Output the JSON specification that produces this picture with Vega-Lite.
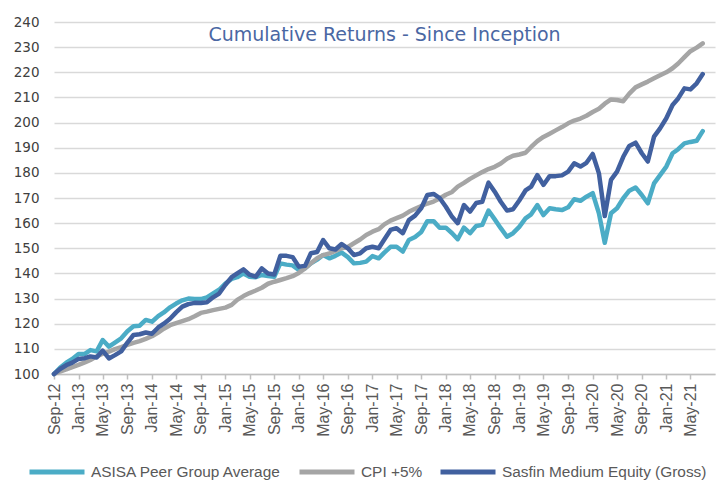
{
  "$schema": "https://vega.github.io/schema/vega-lite/v6.json",
  "width": 661,
  "height": 352,
  "autosize": {"type": "none"},
  "padding": {"left": 54, "top": 22, "right": 11, "bottom": 124},
  "background": "white",
  "title": {
    "text": "Cumulative Returns - Since Inception",
    "font": "DejaVu Sans",
    "fontSize": 19,
    "fontWeight": "normal",
    "color": "#4a67a3",
    "anchor": "middle",
    "offset": -30
  },
  "data": {
    "values": [
      {"d": "2012-09-01", "a": 100, "c": 100, "s": 100},
      {"d": "2012-10-01", "a": 102.5, "c": 101, "s": 102},
      {"d": "2012-11-01", "a": 104.5, "c": 101.8, "s": 103.5},
      {"d": "2012-12-01", "a": 106, "c": 102.7, "s": 104.5},
      {"d": "2013-01-01", "a": 108, "c": 103.6, "s": 106},
      {"d": "2013-02-01", "a": 108, "c": 104.6, "s": 106.3},
      {"d": "2013-03-01", "a": 109.5, "c": 105.6, "s": 107},
      {"d": "2013-04-01", "a": 109, "c": 107, "s": 106.6},
      {"d": "2013-05-01", "a": 113.5, "c": 108.1, "s": 109.3},
      {"d": "2013-06-01", "a": 110.9, "c": 108.9, "s": 106.2},
      {"d": "2013-07-01", "a": 112.5, "c": 109.9, "s": 107.5},
      {"d": "2013-08-01", "a": 114.2, "c": 110.7, "s": 109},
      {"d": "2013-09-01", "a": 117, "c": 111.6, "s": 112.5},
      {"d": "2013-10-01", "a": 119, "c": 112.4, "s": 115.5},
      {"d": "2013-11-01", "a": 119.2, "c": 113.1, "s": 115.8},
      {"d": "2013-12-01", "a": 121.5, "c": 114, "s": 116.5},
      {"d": "2014-01-01", "a": 120.8, "c": 115, "s": 116},
      {"d": "2014-02-01", "a": 123, "c": 116.5, "s": 118.5},
      {"d": "2014-03-01", "a": 124.5, "c": 118, "s": 120},
      {"d": "2014-04-01", "a": 126.5, "c": 119.4, "s": 122},
      {"d": "2014-05-01", "a": 128, "c": 120.2, "s": 124.5},
      {"d": "2014-06-01", "a": 129.3, "c": 121, "s": 126.8},
      {"d": "2014-07-01", "a": 130, "c": 121.8, "s": 127.8},
      {"d": "2014-08-01", "a": 129.8, "c": 123, "s": 128.3},
      {"d": "2014-09-01", "a": 129.8, "c": 124.3, "s": 128.2},
      {"d": "2014-10-01", "a": 130.5, "c": 124.8, "s": 128.5},
      {"d": "2014-11-01", "a": 132, "c": 125.4, "s": 130.5},
      {"d": "2014-12-01", "a": 133.5, "c": 125.9, "s": 132},
      {"d": "2015-01-01", "a": 136, "c": 126.4, "s": 135.5},
      {"d": "2015-02-01", "a": 137.8, "c": 127.5, "s": 138.5},
      {"d": "2015-03-01", "a": 138.5, "c": 129.5, "s": 140},
      {"d": "2015-04-01", "a": 140, "c": 131, "s": 141.6},
      {"d": "2015-05-01", "a": 138.7, "c": 132.2, "s": 139.5},
      {"d": "2015-06-01", "a": 138.5, "c": 133.2, "s": 138.7},
      {"d": "2015-07-01", "a": 139.4, "c": 134.3, "s": 142},
      {"d": "2015-08-01", "a": 139, "c": 135.9, "s": 140},
      {"d": "2015-09-01", "a": 138.7, "c": 136.7, "s": 139.6},
      {"d": "2015-10-01", "a": 144, "c": 137.4, "s": 147},
      {"d": "2015-11-01", "a": 143.5, "c": 138.1, "s": 147},
      {"d": "2015-12-01", "a": 143.2, "c": 138.9, "s": 146.5},
      {"d": "2016-01-01", "a": 141.4, "c": 140.2, "s": 142.7},
      {"d": "2016-02-01", "a": 142, "c": 142, "s": 143},
      {"d": "2016-03-01", "a": 144, "c": 144, "s": 148},
      {"d": "2016-04-01", "a": 145.5, "c": 146, "s": 148.5},
      {"d": "2016-05-01", "a": 147.3, "c": 147.3, "s": 153.3},
      {"d": "2016-06-01", "a": 146, "c": 148, "s": 150},
      {"d": "2016-07-01", "a": 147, "c": 149, "s": 149.5},
      {"d": "2016-08-01", "a": 148.3, "c": 150, "s": 151.7},
      {"d": "2016-09-01", "a": 146.5, "c": 150.5, "s": 150},
      {"d": "2016-10-01", "a": 144, "c": 152, "s": 147.3},
      {"d": "2016-11-01", "a": 144.2, "c": 153.5, "s": 148},
      {"d": "2016-12-01", "a": 144.7, "c": 155.3, "s": 150},
      {"d": "2017-01-01", "a": 146.9, "c": 156.6, "s": 150.6},
      {"d": "2017-02-01", "a": 146, "c": 157.6, "s": 150},
      {"d": "2017-03-01", "a": 148.3, "c": 159.5, "s": 153.5},
      {"d": "2017-04-01", "a": 150.6, "c": 161, "s": 157.3},
      {"d": "2017-05-01", "a": 150.6, "c": 162, "s": 158},
      {"d": "2017-06-01", "a": 148.7, "c": 163, "s": 156},
      {"d": "2017-07-01", "a": 153.3, "c": 164.5, "s": 161.2},
      {"d": "2017-08-01", "a": 154.5, "c": 165.7, "s": 163},
      {"d": "2017-09-01", "a": 156.5, "c": 166.8, "s": 166},
      {"d": "2017-10-01", "a": 160.8, "c": 167.8, "s": 171.2},
      {"d": "2017-11-01", "a": 160.8, "c": 168.6, "s": 171.6},
      {"d": "2017-12-01", "a": 158.2, "c": 169.8, "s": 170},
      {"d": "2018-01-01", "a": 158.2, "c": 171.3, "s": 166.5},
      {"d": "2018-02-01", "a": 156, "c": 172.4, "s": 162.5},
      {"d": "2018-03-01", "a": 153.6, "c": 174.5, "s": 160},
      {"d": "2018-04-01", "a": 158.2, "c": 176, "s": 167.2},
      {"d": "2018-05-01", "a": 156, "c": 177.6, "s": 164.6},
      {"d": "2018-06-01", "a": 158.9, "c": 179, "s": 168},
      {"d": "2018-07-01", "a": 159.3, "c": 180.3, "s": 168.5},
      {"d": "2018-08-01", "a": 165, "c": 181.5, "s": 176.1},
      {"d": "2018-09-01", "a": 161.5, "c": 182.4, "s": 172.5},
      {"d": "2018-10-01", "a": 158, "c": 183.7, "s": 168.5},
      {"d": "2018-11-01", "a": 154.6, "c": 185.6, "s": 165},
      {"d": "2018-12-01", "a": 156, "c": 186.8, "s": 165.5},
      {"d": "2019-01-01", "a": 158.5, "c": 187.3, "s": 169},
      {"d": "2019-02-01", "a": 161.9, "c": 188, "s": 173},
      {"d": "2019-03-01", "a": 163.5, "c": 190.3, "s": 174.5},
      {"d": "2019-04-01", "a": 167.2, "c": 192.6, "s": 179.1},
      {"d": "2019-05-01", "a": 163.2, "c": 194.3, "s": 175.2},
      {"d": "2019-06-01", "a": 165.9, "c": 195.6, "s": 178.7},
      {"d": "2019-07-01", "a": 165.5, "c": 196.9, "s": 178.7},
      {"d": "2019-08-01", "a": 165.2, "c": 198.2, "s": 179},
      {"d": "2019-09-01", "a": 166.3, "c": 199.7, "s": 180.5},
      {"d": "2019-10-01", "a": 169.5, "c": 200.8, "s": 183.8},
      {"d": "2019-11-01", "a": 168.9, "c": 201.6, "s": 182.5},
      {"d": "2019-12-01", "a": 170.5, "c": 202.7, "s": 184},
      {"d": "2020-01-01", "a": 171.9, "c": 204.2, "s": 187.5},
      {"d": "2020-02-01", "a": 163.9, "c": 205.5, "s": 179.8},
      {"d": "2020-03-01", "a": 152.2, "c": 207.5, "s": 162.8},
      {"d": "2020-04-01", "a": 163.9, "c": 209.2, "s": 177.2},
      {"d": "2020-05-01", "a": 165.9, "c": 209, "s": 180.5},
      {"d": "2020-06-01", "a": 169.9, "c": 208.5, "s": 186.4},
      {"d": "2020-07-01", "a": 172.9, "c": 211.5, "s": 190.7},
      {"d": "2020-08-01", "a": 174.2, "c": 214, "s": 192},
      {"d": "2020-09-01", "a": 171.2, "c": 215.2, "s": 187.8},
      {"d": "2020-10-01", "a": 167.9, "c": 216.3, "s": 184.5},
      {"d": "2020-11-01", "a": 175.8, "c": 217.6, "s": 194.4},
      {"d": "2020-12-01", "a": 179.1, "c": 218.8, "s": 197.7},
      {"d": "2021-01-01", "a": 182.5, "c": 220, "s": 201.7},
      {"d": "2021-02-01", "a": 187.8, "c": 221.6, "s": 207},
      {"d": "2021-03-01", "a": 189.4, "c": 223.5, "s": 209.6},
      {"d": "2021-04-01", "a": 191.7, "c": 226, "s": 213.6},
      {"d": "2021-05-01", "a": 192.3, "c": 228.4, "s": 213.2},
      {"d": "2021-06-01", "a": 192.8, "c": 229.8, "s": 215.6},
      {"d": "2021-07-01", "a": 196.6, "c": 231.5, "s": 219.3}
    ]
  },
  "transform": [{"fold": ["a", "c", "s"], "as": ["k", "v"]}],
  "mark": {"type": "line", "strokeWidth": 4.5, "strokeCap": "round", "strokeJoin": "round"},
  "encoding": {
    "x": {
      "field": "d",
      "type": "temporal",
      "scale": {"type": "utc", "domain": ["2012-09-01", "2021-08-31"]},
      "axis": {
        "title": null,
        "grid": false,
        "tickCount": {"interval": "month", "step": 4},
        "labelExpr": "utcFormat(datum.value, '%b-%y')",
        "labelAngle": -90,
        "labelFont": "Liberation Sans",
        "labelFontSize": 16,
        "labelColor": "#595959",
        "labelPadding": 4,
        "labelOverlap": false,
        "labelFlush": false,
        "labelBound": false,
        "domainColor": "#bfbfbf",
        "domainWidth": 1.5,
        "tickColor": "#bfbfbf",
        "tickWidth": 1.5,
        "tickSize": 5
      }
    },
    "y": {
      "field": "v",
      "type": "quantitative",
      "scale": {"domain": [100, 240], "nice": false, "zero": false},
      "axis": {
        "title": null,
        "values": [100, 110, 120, 130, 140, 150, 160, 170, 180, 190, 200, 210, 220, 230, 240],
        "grid": true,
        "gridColor": "#d9d9d9",
        "gridWidth": 1.5,
        "domain": false,
        "ticks": false,
        "labelFont": "DejaVu Sans",
        "labelFontSize": 13.5,
        "labelColor": "#404040",
        "labelPadding": 15
      }
    },
    "color": {
      "field": "k",
      "type": "nominal",
      "scale": {"domain": ["a", "c", "s"], "range": ["#4bacc6", "#a5a5a5", "#41609f"]},
      "legend": {
        "title": null,
        "orient": "none",
        "legendX": -27,
        "legendY": 420,
        "direction": "horizontal",
        "symbolType": "stroke",
        "symbolSize": 3025,
        "symbolStrokeWidth": 5,
        "labelFont": "Liberation Sans",
        "labelFontSize": 15.4,
        "labelColor": "#595959",
        "labelOffset": 4,
        "columnPadding": 7,
        "labelLimit": 400,
        "labelExpr": "datum.label == 'a' ? 'ASISA Peer Group Average' : datum.label == 'c' ? 'CPI +5%' : 'Sasfin Medium Equity (Gross)'"
      }
    }
  },
  "config": {"view": {"stroke": null}}
}
